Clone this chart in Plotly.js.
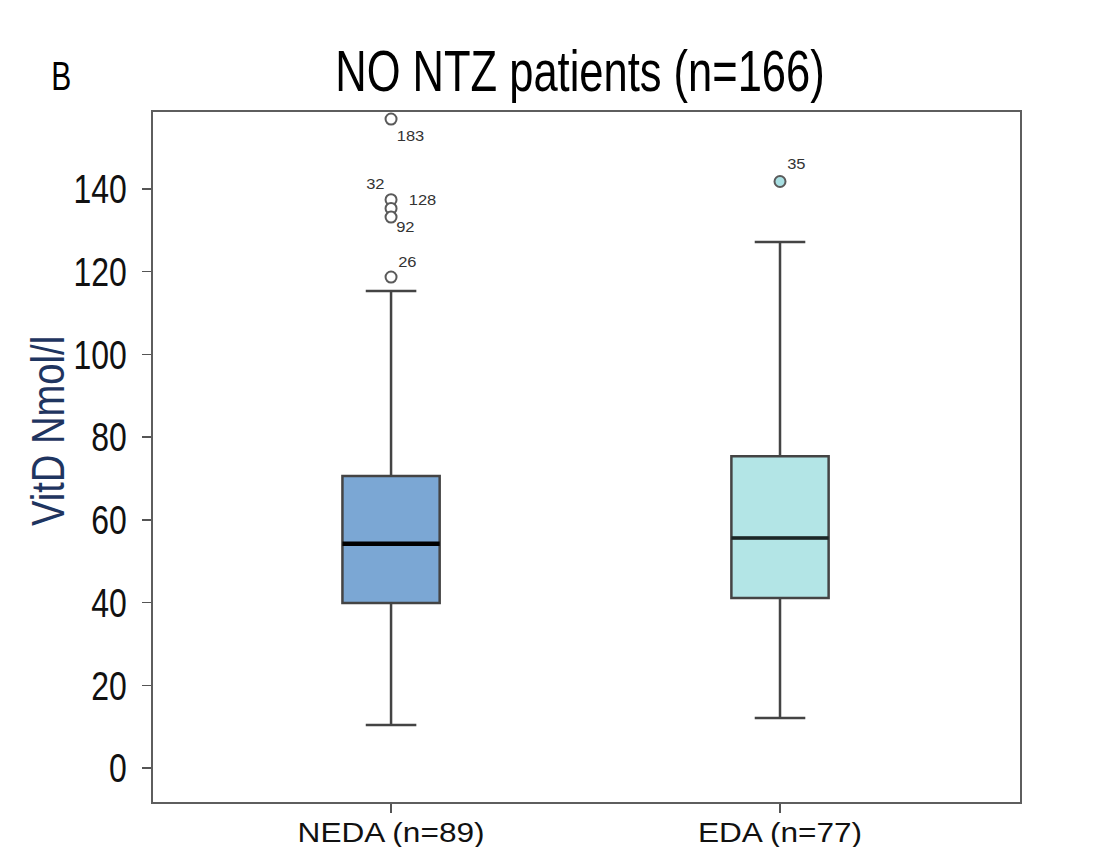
<!DOCTYPE html>
<html>
<head>
<meta charset="utf-8">
<script src="https://cdn.plot.ly/plotly-3.0.1.min.js"></script>
<style>html,body{margin:0;padding:0;background:#fff}#chart{width:1113px;height:847px}</style>
</head>
<body>
<div id="chart"></div>
<script>
// Data
const groups = ["NEDA (n=89)", "EDA (n=77)"];
const groupPos = [0, 1];
const q1 = [39.9, 41.1];
const medians = [54.2, 55.6];
const q3 = [70.6, 75.4];
const lowerWhisker = [10.4, 12.1];
const upperWhisker = [115.3, 127.2];
const fills = ["#7BA7D4", "#B3E5E6"];

const outlierGroup = [0, 0, 0, 0, 0, 1];
const outlierValues = [156.9, 137.4, 135.3, 133.2, 118.7, 141.8];
const outlierIds = ["183", "128", "32", "92", "26", "35"];
// label offsets in pixels (style only)
const labelDx = [19, 31, -16, 14, 16, 16];
const labelDy = [-16, 0, 25, -9, 16, 18];

const yTicks = [0, 20, 40, 60, 80, 100, 120, 140];

const boxWidth = 0.25;
const edge = "#555555";
const font = "'Liberation Sans', Arial, sans-serif";

const traces = [];
groups.forEach((g, i) => {
  traces.push({
    type: "box",
    x: [groupPos[i]],
    q1: [q1[i]], median: [medians[i]], q3: [q3[i]],
    lowerfence: [lowerWhisker[i]], upperfence: [upperWhisker[i]],
    width: boxWidth,
    whiskerwidth: 0.52,
    fillcolor: fills[i],
    line: {color: "#444444", width: 2.5},
    showlegend: false,
    hoverinfo: "skip"
  });
  traces.push({
    type: "scatter", mode: "lines",
    x: [groupPos[i] - boxWidth / 2, groupPos[i] + boxWidth / 2],
    y: [medians[i], medians[i]],
    line: {color: i === 0 ? "#000000" : "#1a2626", width: i === 0 ? 4.5 : 3.5},
    showlegend: false, hoverinfo: "skip"
  });
});

traces.push({
  type: "scatter", mode: "markers",
  x: outlierGroup.map(g => groupPos[g]),
  y: outlierValues,
  marker: {
    symbol: "circle", size: 11,
    color: outlierGroup.map(g => g === 0 ? "#ffffff" : "#A8DFE2"),
    line: {color: "#5a5a5a", width: 2}
  },
  showlegend: false, hoverinfo: "skip", cliponaxis: false
});

const annotations = outlierIds.map((id, i) => ({
  text: id, x: groupPos[outlierGroup[i]], y: outlierValues[i],
  xref: "x", yref: "y", showarrow: false,
  xshift: labelDx[i], yshift: labelDy[i],
  xanchor: "center", yanchor: "middle",
  font: {family: font, size: 15, color: "#333333"}
}));
annotations.push({
  text: "B", xref: "paper", yref: "paper", x: -0.106, y: 1.052,
  xanchor: "center", yanchor: "middle", showarrow: false,
  font: {family: font, size: 40, color: "#000000"}
});
annotations.push({
  text: "VitD Nmol/l", xref: "paper", yref: "paper", x: -0.121, y: 0.537,
  xanchor: "center", yanchor: "middle", showarrow: false, textangle: -90,
  font: {family: font, size: 46, color: "#1F3560"}
});

const layout = {
  width: 1113, height: 847,
  margin: {l: 153, r: 93, t: 112, b: 45},
  paper_bgcolor: "#ffffff", plot_bgcolor: "#ffffff",
  showlegend: false,
  boxmode: "overlay",
  title: {
    text: "NO NTZ patients (n=166)",
    font: {family: font, size: 58, color: "#000000"},
    x: 580 / 1113, xref: "container", xanchor: "center",
    y: 1 - 71 / 847, yref: "container", yanchor: "middle"
  },
  xaxis: {
    range: [-0.612, 1.617],
    tickvals: groupPos, ticktext: groups,
    ticks: "outside", ticklen: 9, tickwidth: 1.5, tickcolor: edge,
    ticklabelstandoff: -3,
    tickfont: {family: font, size: 27, color: "#111111"},
    showline: true, linecolor: "#5e5e5e", linewidth: 2, mirror: true,
    showgrid: false, zeroline: false
  },
  yaxis: {
    range: [-8.2, 158.6],
    tickvals: yTicks,
    ticks: "outside", ticklen: 9, tickwidth: 1.5, tickcolor: edge,
    ticklabelstandoff: 7,
    tickfont: {family: font, size: 41, color: "#111111"},
    showline: true, linecolor: "#5e5e5e", linewidth: 2, mirror: true,
    showgrid: false, zeroline: false
  },
  annotations: annotations
};

// squeeze a text element along its own direction (it stays real text)
function squeeze(el, s, anchor) {
  const bb = el.getBBox();
  const ax = anchor === "end" ? bb.x + bb.width : (anchor === "start" ? bb.x : bb.x + bb.width / 2);
  const ay = bb.y + bb.height / 2;
  const prev = el.getAttribute("transform") || "";
  el.setAttribute("transform", prev + " translate(" + ax + "," + ay + ") scale(" + s + ",1) translate(" + (-ax) + "," + (-ay) + ")");
}

Plotly.newPlot("chart", traces, layout, {displayModeBar: false, staticPlot: true}).then(gd => {
  const t = gd.querySelector(".gtitle");
  if (t) squeeze(t, 0.75, "middle");
  gd.querySelectorAll(".ytick text").forEach(el => squeeze(el, 0.78, "end"));
  gd.querySelectorAll(".xtick text").forEach(el => squeeze(el, 1.17, "middle"));
  gd.querySelectorAll(".annotation-text").forEach(el => {
    const txt = el.textContent;
    if (txt === "B") squeeze(el, 0.75, "middle");
    else if (txt === "VitD Nmol/l") squeeze(el, 0.83, "middle");
    else squeeze(el, 1.1, "middle");
  });
});
</script>
</body>
</html>
